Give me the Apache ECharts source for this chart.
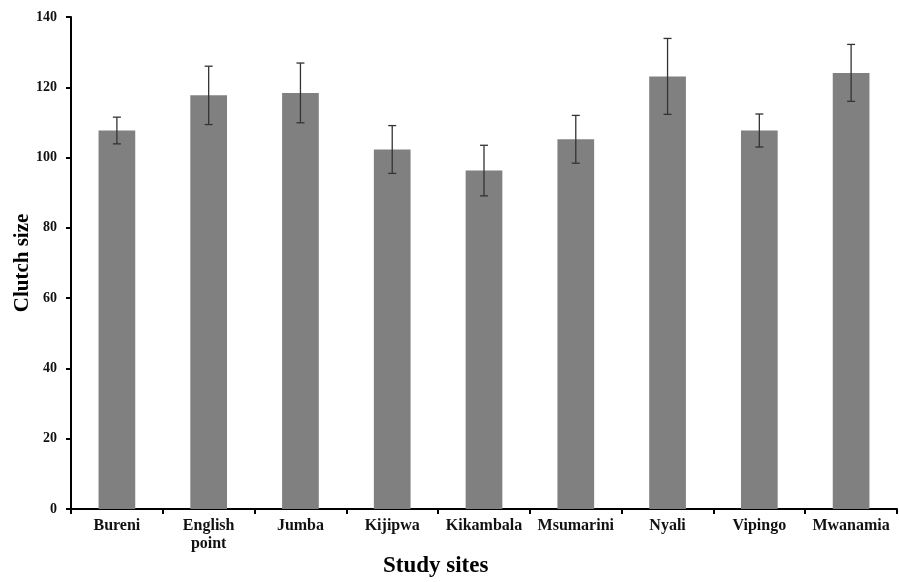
<!DOCTYPE html>
<html>
<head>
<meta charset="utf-8">
<script src="https://cdn.jsdelivr.net/npm/echarts@6/dist/echarts.min.js"></script>
<style>
  html, body { margin: 0; padding: 0; background: #fff; }
  #chart { width: 899px; height: 582px; }
</style>
</head>
<body>
<div id="chart"></div>
<script>
// Mean clutch size per study site, with standard error
const sites = ['Bureni', 'English\npoint', 'Jumba', 'Kijipwa', 'Kikambala', 'Msumarini', 'Nyali', 'Vipingo', 'Mwanamia'];
const clutchMean = [107.7, 117.7, 118.4, 102.3, 96.3, 105.2, 123.1, 107.7, 124.1];
const clutchErr = [3.8, 8.3, 8.5, 6.8, 7.2, 6.8, 10.8, 4.7, 8.1];
const yTicks = [0, 20, 40, 60, 80, 100, 120, 140];

const serif = '"Liberation Serif", "Times New Roman", serif';
const chart = echarts.init(document.getElementById('chart'));

const errorData = clutchMean.map((m, i) => [i, m - clutchErr[i], m + clutchErr[i]]);

chart.setOption({
  animation: false,
  grid: { left: 71, right: 2, top: 17, bottom: 73, containLabel: false, outerBoundsMode: 'none' },
  xAxis: {
    type: 'category',
    data: sites,
    axisLine: { lineStyle: { color: '#000', width: 2 } },
    axisTick: { show: true, length: 5, interval: 0, lineStyle: { color: '#000', width: 2 } },
    axisLabel: {
      interval: 0, color: '#111', fontFamily: serif, fontWeight: 'bold', fontSize: 16,
      margin: 8, lineHeight: 18
    }
  },
  yAxis: {
    type: 'value',
    min: yTicks[0],
    max: yTicks[yTicks.length - 1],
    interval: 20,
    name: 'Clutch size',
    nameLocation: 'middle',
    nameGap: 38,
    nameMoveOverlap: false,
    nameTextStyle: { color: '#000', fontFamily: serif, fontWeight: 'bold', fontSize: 21 },
    axisLine: { show: true, lineStyle: { color: '#000', width: 2 } },
    axisTick: { show: true, length: 5, lineStyle: { color: '#000', width: 2 } },
    axisLabel: { color: '#111', fontFamily: serif, fontWeight: 'bold', fontSize: 14, margin: 14 },
    splitLine: { show: false }
  },
  graphic: [{
    type: 'text',
    left: 383,
    top: 555,
    style: { text: 'Study sites', fill: '#000', font: 'bold 23px ' + serif }
  }],
  series: [
    {
      type: 'bar',
      data: clutchMean,
      barWidth: '40%',
      itemStyle: { color: '#808080' }
    },
    {
      type: 'custom',
      data: errorData,
      z: 10,
      renderItem: function (params, api) {
        const i = api.value(0);
        const lo = api.coord([i, api.value(1)]);
        const hi = api.coord([i, api.value(2)]);
        const cap = 4;
        const style = { stroke: '#333', lineWidth: 1.3 };
        return {
          type: 'group',
          children: [
            { type: 'line', shape: { x1: hi[0], y1: hi[1], x2: lo[0], y2: lo[1] }, style: style },
            { type: 'line', shape: { x1: hi[0] - cap, y1: hi[1], x2: hi[0] + cap, y2: hi[1] }, style: style },
            { type: 'line', shape: { x1: lo[0] - cap, y1: lo[1], x2: lo[0] + cap, y2: lo[1] }, style: style }
          ]
        };
      }
    }
  ]
});
</script>
</body>
</html>
